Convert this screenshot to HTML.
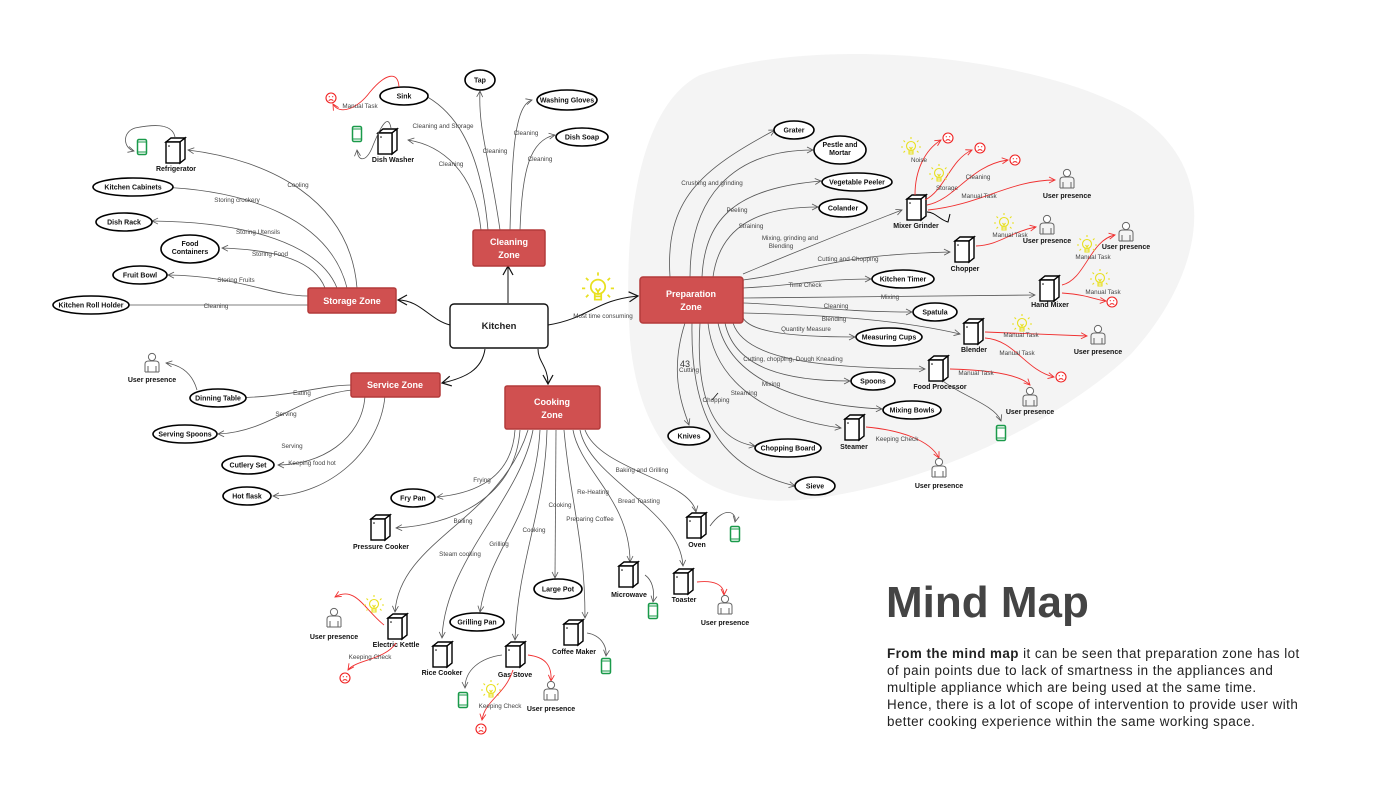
<!DOCTYPE html>
<html><head><meta charset="utf-8"><style>
html,body{margin:0;padding:0;background:#fff;}
svg{display:block;font-family:"Liberation Sans",sans-serif;}
.n{font-size:7px;font-weight:bold;fill:#111;text-anchor:middle;}
.l{font-size:6.3px;fill:#444;text-anchor:middle;}
.e{fill:none;stroke:#555;stroke-width:0.8;marker-end:url(#ar);}
.r{fill:none;stroke:#f03030;stroke-width:0.9;marker-end:url(#arr);}
.o{fill:#fff;stroke:#000;stroke-width:1.6;}
.z{fill:#d05050;stroke:#b33a3a;stroke-width:1.5;}
.zt{font-size:9px;font-weight:bold;fill:#fff;text-anchor:middle;}
#txt{position:absolute;left:887px;top:645px;font-family:"Liberation Sans",sans-serif;font-size:13.4px;line-height:17px;color:#222;white-space:nowrap;letter-spacing:0.45px;}
#ttl{position:absolute;left:886px;top:578px;font-family:"Liberation Sans",sans-serif;font-size:44px;font-weight:bold;color:#444;}
</style></head><body>
<div style="position:relative;width:1400px;height:788px;overflow:hidden">
<svg width="1400" height="788" viewBox="0 0 1400 788">
<defs>
<marker id="ar" markerWidth="8" markerHeight="8" refX="7" refY="4" orient="auto" markerUnits="userSpaceOnUse"><path d="M1,1 L7,4 L1,7" fill="none" stroke="#555" stroke-width="0.8"/></marker>
<marker id="arr" markerWidth="8" markerHeight="8" refX="7" refY="4" orient="auto" markerUnits="userSpaceOnUse"><path d="M1,1 L7,4 L1,7" fill="none" stroke="#f03030" stroke-width="0.9"/></marker>
<marker id="ab" markerWidth="12" markerHeight="12" refX="10" refY="6" orient="auto" markerUnits="userSpaceOnUse"><path d="M1,1 L10,6 L1,11" fill="none" stroke="#111" stroke-width="1.2"/></marker>
<g id="ap"><path d="M-10,-9 L-5,-13 L9,-13 L4,-9 Z" fill="#fff" stroke="#000" stroke-width="1.4"/><path d="M4,-9 L9,-13 L9,8 L4,12 Z" fill="#fff" stroke="#000" stroke-width="1.4"/><rect x="-10" y="-9" width="14" height="21" fill="#fff" stroke="#000" stroke-width="1.4"/><circle cx="-7" cy="-5" r="0.8" fill="#000"/></g>
<g id="ph"><rect x="-4.5" y="-7.5" width="9" height="15" rx="1.5" fill="#fff" stroke="#1a9a4a" stroke-width="1.5"/><line x1="-4.5" y1="-5" x2="4.5" y2="-5" stroke="#1a9a4a"/><line x1="-4.5" y1="5" x2="4.5" y2="5" stroke="#1a9a4a"/></g>
<g id="us"><circle cx="0" cy="-7" r="3.6" fill="#fff" stroke="#666" stroke-width="1"/><path d="M-7,8 L-7,0 Q-7,-3 -3,-3 L3,-3 Q7,-3 7,0 L7,8 M-4,8 L-4,2 M4,8 L4,2 M-7,8 L7,8" fill="none" stroke="#666" stroke-width="1"/></g>
<g id="sd"><circle r="5" fill="#fff" stroke="#f02020" stroke-width="1.1"/><circle cx="-1.7" cy="-1.3" r="0.6" fill="#f02020"/><circle cx="1.7" cy="-1.3" r="0.6" fill="#f02020"/><path d="M-2.3,2.6 Q0,0.6 2.3,2.6" fill="none" stroke="#f02020" stroke-width="0.9"/></g>
<g id="bl" stroke="#e8e020" fill="none" stroke-width="1.1"><circle cx="0" cy="-2" r="4.5"/><path d="M-2,2 L-2,6 L2,6 L2,2 M-2,4 L2,4 M-1.5,-1 L0,1 L1.5,-1 M0,1 L0,3"/><path d="M0,-9 L0,-11 M-6,-6 L-7.5,-7.5 M6,-6 L7.5,-7.5 M-8,-1 L-10,-1 M8,-1 L10,-1 M-6,3 L-7.5,4.5 M6,3 L7.5,4.5"/></g>
</defs>

<path d="M700,75 C820,35 1030,55 1130,110 C1230,170 1200,280 1130,355 C1050,430 910,490 800,500 C700,508 640,450 630,340 C622,220 640,105 700,75Z" fill="#f4f4f4"/>

<!-- Kitchen connections -->
<path d="M450,325 C430,320 420,300 398,300" fill="none" stroke="#111" stroke-width="1" marker-end="url(#ab)"/>
<path d="M508,303 L508,266" fill="none" stroke="#111" stroke-width="1" marker-end="url(#ab)"/>
<path d="M485,349 C482,370 465,378 442,383" fill="none" stroke="#111" stroke-width="1" marker-end="url(#ab)"/>
<path d="M538,349 C538,362 548,366 548,384" fill="none" stroke="#111" stroke-width="1" marker-end="url(#ab)"/>
<path d="M548,325 C590,318 595,300 638,296" fill="none" stroke="#111" stroke-width="1" marker-end="url(#ab)"/>
<text class="l" x="603" y="318">Most time consuming</text>
<use href="#bl" transform="translate(598,290) scale(1.6)"/>

<!-- Storage edges -->
<path class="e" d="M357,288 C350,200 270,160 188,150"/><text class="l" x="298" y="187">Cooling</text>
<path class="e" d="M347,288 C330,220 250,190 158,187"/><text class="l" x="237" y="202">Storing crockery</text>
<path class="e" d="M337,288 C320,245 250,222 152,221"/><text class="l" x="258" y="234">Storing Utensils</text>
<path class="e" d="M325,288 C315,262 280,250 222,248"/><text class="l" x="270" y="256">Storing Food</text>
<path class="e" d="M308,296 C270,296 240,276 168,275"/><text class="l" x="236" y="282">Storing Fruits</text>
<path class="e" d="M308,305 L118,305"/><text class="l" x="216" y="308">Cleaning</text>
<path class="e" d="M175,137 C172,122 150,125 135,128 C122,132 123,148 134,151"/>
<use href="#ap" x="176" y="151"/><text class="n" x="176" y="171">Refrigerator</text>
<use href="#ph" x="142" y="147"/>
<ellipse class="o" cx="133" cy="187" rx="40" ry="9"/><text class="n" x="133" y="189.5">Kitchen Cabinets</text>
<ellipse class="o" cx="124" cy="222" rx="28" ry="9"/><text class="n" x="124" y="224.5">Dish Rack</text>
<ellipse class="o" cx="190" cy="249" rx="29" ry="14"/><text class="n" x="190" y="246">Food</text><text class="n" x="190" y="254">Containers</text>
<ellipse class="o" cx="140" cy="275" rx="27" ry="9"/><text class="n" x="140" y="277.5">Fruit Bowl</text>
<ellipse class="o" cx="91" cy="305" rx="38" ry="9"/><text class="n" x="91" y="307.5">Kitchen Roll Holder</text>

<!-- Cleaning edges -->
<path class="e" d="M488,230 C480,140 450,108 422,94"/><text class="l" x="443" y="128">Cleaning and Storage</text>
<path class="e" d="M481,230 C475,170 440,145 408,140"/><text class="l" x="451" y="166">Cleaning</text>
<path class="e" d="M500,230 C490,160 478,130 480,91"/><text class="l" x="495" y="153">Cleaning</text>
<path class="e" d="M510,230 C512,150 515,105 532,100"/><text class="l" x="526" y="135">Cleaning</text>
<path class="e" d="M520,230 C522,170 530,140 555,135"/><text class="l" x="540" y="161">Cleaning</text>
<ellipse class="o" cx="404" cy="96" rx="24" ry="9"/><text class="n" x="404" y="98.5">Sink</text>
<ellipse class="o" cx="480" cy="80" rx="15" ry="10"/><text class="n" x="480" y="82.5">Tap</text>
<ellipse class="o" cx="567" cy="100" rx="30" ry="10"/><text class="n" x="567" y="102.5">Washing Gloves</text>
<ellipse class="o" cx="582" cy="137" rx="26" ry="9"/><text class="n" x="582" y="139.5">Dish Soap</text>
<path class="r" d="M399,87 C398,70 385,74 370,92 C358,108 340,116 333,104"/>
<use href="#sd" x="331" y="98"/><text class="l" x="360" y="108">Manual Task</text>
<use href="#ap" x="388" y="142"/><text class="n" x="393" y="162">Dish Washer</text>
<path class="e" d="M391,128 C388,112 380,128 372,148 C366,162 358,162 357,150"/>
<use href="#ph" x="357" y="134"/>

<!-- Service edges -->
<path class="e" d="M352,385 C320,385 290,398 225,398"/><text class="l" x="302" y="395">Eating</text>
<path class="e" d="M352,390 C300,395 270,432 218,434"/><text class="l" x="286" y="416">Serving</text>
<path class="e" d="M365,396 C362,440 320,465 278,465"/><text class="l" x="292" y="448">Serving</text>
<path class="e" d="M385,396 C380,450 330,495 273,496"/><text class="l" x="312" y="465">Keeping food hot</text>
<path class="e" d="M197,390 C192,372 180,365 166,363"/>
<use href="#us" x="152" y="364"/><text class="n" x="152" y="382">User presence</text>
<ellipse class="o" cx="218" cy="398" rx="28" ry="9"/><text class="n" x="218" y="400.5">Dinning Table</text>
<ellipse class="o" cx="185" cy="434" rx="32" ry="9"/><text class="n" x="185" y="436.5">Serving Spoons</text>
<ellipse class="o" cx="248" cy="465" rx="26" ry="9"/><text class="n" x="248" y="467.5">Cutlery Set</text>
<ellipse class="o" cx="247" cy="496" rx="24" ry="9"/><text class="n" x="247" y="498.5">Hot flask</text>

<!-- Cooking edges -->
<path class="e" d="M515,430 C512,475 480,493 437,497"/><text class="l" x="482" y="482">Frying</text>
<path class="e" d="M520,430 C515,500 450,525 396,528"/><text class="l" x="463" y="523">Boiling</text>
<path class="e" d="M528,430 C500,520 400,540 395,612"/>
<path class="e" d="M533,430 C520,500 445,560 442,638"/><text class="l" x="460" y="556">Steam cooking</text>
<path class="e" d="M540,430 C535,520 490,545 480,612"/><text class="l" x="499" y="546">Grilling</text>
<path class="e" d="M547,430 C545,510 518,560 515,640"/><text class="l" x="534" y="532">Cooking</text>
<path class="e" d="M556,430 L555,578"/><text class="l" x="560" y="507">Cooking</text>
<path class="e" d="M564,430 C570,500 585,540 585,618"/><text class="l" x="590" y="521">Preparing Coffee</text>
<path class="e" d="M573,430 C580,470 630,500 630,562"/><text class="l" x="593" y="494">Re-Heating</text>
<path class="e" d="M580,430 C590,480 680,510 683,566"/><text class="l" x="639" y="503">Bread Toasting</text>
<path class="e" d="M585,430 C600,470 690,480 696,512"/><text class="l" x="642" y="472">Baking and Grilling</text>
<ellipse class="o" cx="413" cy="498" rx="22" ry="9"/><text class="n" x="413" y="500.5">Fry Pan</text>
<use href="#ap" x="381" y="528"/><text class="n" x="381" y="549">Pressure Cooker</text>
<use href="#ap" x="398" y="627"/><text class="n" x="396" y="647">Electric Kettle</text>
<path class="r" d="M384,625 C365,610 355,585 335,597"/>
<use href="#us" x="334" y="619"/><text class="n" x="334" y="639">User presence</text>
<use href="#bl" x="374" y="606"/>
<path class="r" d="M396,643 C385,660 355,660 348,670"/><text class="l" x="370" y="659">Keeping Check</text>
<use href="#sd" x="345" y="678"/>
<use href="#ap" x="443" y="655"/><text class="n" x="442" y="675">Rice Cooker</text>
<ellipse class="o" cx="477" cy="622" rx="27" ry="9"/><text class="n" x="477" y="624.5">Grilling Pan</text>
<use href="#ap" x="516" y="655"/><text class="n" x="515" y="677">Gas Stove</text>
<path class="e" d="M502,655 C480,658 465,670 465,688"/>
<use href="#ph" x="463" y="700"/>
<use href="#bl" x="491" y="691"/>
<path class="r" d="M513,670 C505,695 485,700 482,720"/><text class="l" x="500" y="708">Keeping Check</text>
<use href="#sd" x="481" y="729"/>
<path class="r" d="M528,655 C545,657 552,665 551,681"/>
<use href="#us" x="551" y="692"/><text class="n" x="551" y="711">User presence</text>
<ellipse class="o" cx="558" cy="589" rx="24" ry="10"/><text class="n" x="558" y="591.5">Large Pot</text>
<use href="#ap" x="574" y="633"/><text class="n" x="574" y="654">Coffee Maker</text>
<path class="e" d="M587,633 C600,635 607,645 606,656"/>
<use href="#ph" x="606" y="666"/>
<use href="#ap" x="629" y="575"/><text class="n" x="629" y="597">Microwave</text>
<path class="e" d="M645,575 C652,580 655,590 653,602"/>
<use href="#ph" x="653" y="611"/>
<use href="#ap" x="697" y="526"/><text class="n" x="697" y="547">Oven</text>
<path class="e" d="M710,526 C725,505 737,512 735,522"/>
<use href="#ph" x="735" y="534"/>
<use href="#ap" x="684" y="582"/><text class="n" x="684" y="602">Toaster</text>
<path class="r" d="M697,582 C715,580 724,585 724,595"/>
<use href="#us" x="725" y="606"/><text class="n" x="725" y="625">User presence</text>

<!-- Prep edges -->
<path class="e" d="M670,277 C665,200 700,170 775,130"/><text class="l" x="712" y="185">Crushing and grinding</text>
<path class="e" d="M690,277 C690,200 730,150 813,150"/>
<path class="e" d="M702,277 C705,215 740,188 821,181"/><text class="l" x="737" y="212">Peeling</text>
<path class="e" d="M713,277 C720,225 760,207 818,207"/><text class="l" x="751" y="228">Straining</text>
<path class="e" d="M743,274 C800,250 850,230 902,210"/><text class="l" x="790" y="240">Mixing, grinding and</text><text class="l" x="781" y="248">Blending</text>
<path class="e" d="M743,280 C820,270 830,255 950,252"/><text class="l" x="848" y="261">Cutting and Chopping</text>
<path class="e" d="M743,288 C800,285 820,279 871,279"/><text class="l" x="805" y="287">Time Check</text>
<path class="e" d="M743,298 L1035,295"/><text class="l" x="890" y="299">Mixing</text>
<path class="e" d="M743,303 C800,305 840,312 912,312"/><text class="l" x="836" y="308">Cleaning</text>
<path class="e" d="M743,313 C830,315 900,320 960,334"/><text class="l" x="834" y="321">Blending</text>
<path class="e" d="M743,318 C750,330 780,337 855,337"/><text class="l" x="806" y="331">Quantity Measure</text>
<path class="e" d="M733,323 C745,360 820,368 925,369"/><text class="l" x="793" y="361">Cutting, chopping, Dough Kneading</text>
<path class="e" d="M725,323 C735,370 790,381 850,381"/>
<path class="e" d="M718,323 C730,380 800,405 882,409"/><text class="l" x="771" y="386">Mixing</text>
<path class="e" d="M708,323 C715,390 780,420 841,428"/><text class="l" x="744" y="395">Steaming</text>
<path class="e" d="M700,323 C695,400 715,440 755,446"/><text class="l" x="716" y="402">Chopping</text>
<path class="e" d="M692,323 C690,430 730,470 795,486"/>
<path class="e" d="M685,323 C670,370 680,400 689,425"/><text class="l" x="689" y="372">Cutting</text>
<text x="680" y="367" style="font-size:9px;fill:#333">43</text>
<path d="M712,400 L718,393" stroke="#111" stroke-width="0.8"/>
<ellipse class="o" cx="794" cy="130" rx="20" ry="9"/><text class="n" x="794" y="132.5">Grater</text>
<ellipse class="o" cx="840" cy="150" rx="26" ry="14"/><text class="n" x="840" y="147">Pestle and</text><text class="n" x="840" y="155">Mortar</text>
<ellipse class="o" cx="857" cy="182" rx="35" ry="9"/><text class="n" x="857" y="184.5">Vegetable Peeler</text>
<ellipse class="o" cx="843" cy="208" rx="24" ry="9"/><text class="n" x="843" y="210.5">Colander</text>
<ellipse class="o" cx="903" cy="279" rx="31" ry="9"/><text class="n" x="903" y="281.5">Kitchen Timer</text>
<ellipse class="o" cx="935" cy="312" rx="22" ry="9"/><text class="n" x="935" y="314.5">Spatula</text>
<ellipse class="o" cx="889" cy="337" rx="33" ry="9"/><text class="n" x="889" y="339.5">Measuring Cups</text>
<ellipse class="o" cx="873" cy="381" rx="22" ry="9"/><text class="n" x="873" y="383.5">Spoons</text>
<ellipse class="o" cx="912" cy="410" rx="29" ry="9"/><text class="n" x="912" y="412.5">Mixing Bowls</text>
<ellipse class="o" cx="689" cy="436" rx="21" ry="9"/><text class="n" x="689" y="438.5">Knives</text>
<ellipse class="o" cx="788" cy="448" rx="33" ry="9"/><text class="n" x="788" y="450.5">Chopping Board</text>
<ellipse class="o" cx="815" cy="486" rx="20" ry="9"/><text class="n" x="815" y="488.5">Sieve</text>

<!-- Mixer grinder cluster -->
<use href="#ap" x="917" y="208"/><text class="n" x="916" y="228">Mixer Grinder</text>
<path d="M927,212 C935,212 940,220 948,222 L950,214" fill="none" stroke="#000" stroke-width="1"/>
<path class="r" d="M915,195 C915,170 925,150 941,140"/><use href="#sd" x="948" y="138"/>
<use href="#bl" x="911" y="148"/><text class="l" x="919" y="162">Noise</text>
<path class="r" d="M925,200 C945,190 950,160 972,150"/><use href="#sd" x="980" y="148"/>
<use href="#bl" x="939" y="175"/><text class="l" x="947" y="190">Storage</text>
<path class="r" d="M927,205 C955,200 970,165 1008,160"/><use href="#sd" x="1015" y="160"/><text class="l" x="978" y="179">Cleaning</text>
<path class="r" d="M928,210 C980,205 1010,180 1055,180"/><text class="l" x="979" y="198">Manual Task</text>
<use href="#us" x="1067" y="180"/><text class="n" x="1067" y="198">User presence</text>
<!-- Chopper -->
<use href="#ap" x="965" y="250"/><text class="n" x="965" y="271">Chopper</text>
<path class="r" d="M976,246 C1000,245 1010,232 1036,227"/><text class="l" x="1010" y="237">Manual Task</text>
<use href="#bl" x="1004" y="224"/>
<use href="#us" x="1047" y="226"/><text class="n" x="1047" y="243">User presence</text>
<!-- Hand mixer -->
<use href="#ap" x="1050" y="289"/><text class="n" x="1050" y="307">Hand Mixer</text>
<path class="r" d="M1062,285 C1085,280 1090,240 1115,235"/><text class="l" x="1093" y="259">Manual Task</text>
<use href="#bl" x="1087" y="246"/>
<use href="#us" x="1126" y="233"/><text class="n" x="1126" y="249">User presence</text>
<path class="r" d="M1062,293 C1090,295 1095,300 1106,301"/><text class="l" x="1103" y="294">Manual Task</text>
<use href="#bl" x="1100" y="280"/><use href="#sd" x="1112" y="302"/>
<!-- Blender -->
<use href="#ap" x="974" y="332"/><text class="n" x="974" y="352">Blender</text>
<path class="r" d="M985,332 L1087,336"/><text class="l" x="1021" y="337">Manual Task</text>
<use href="#bl" x="1022" y="325"/>
<use href="#us" x="1098" y="336"/><text class="n" x="1098" y="354">User presence</text>
<path class="r" d="M985,338 C1015,340 1025,370 1054,377"/><text class="l" x="1017" y="355">Manual Task</text>
<use href="#sd" x="1061" y="377"/>
<!-- Food processor -->
<use href="#ap" x="939" y="369"/><text class="n" x="940" y="389">Food Processor</text>
<path class="r" d="M950,369 C990,370 1020,375 1030,385"/><text class="l" x="976" y="375">Manual Task</text>
<use href="#us" x="1030" y="398"/><text class="n" x="1030" y="414">User presence</text>
<path class="e" d="M943,381 C960,395 995,405 1001,421"/>
<use href="#ph" x="1001" y="433"/>
<!-- Steamer -->
<use href="#ap" x="855" y="428"/><text class="n" x="854" y="449">Steamer</text>
<path class="r" d="M866,427 C900,430 930,440 939,458"/><text class="l" x="897" y="441">Keeping Check</text>
<use href="#us" x="939" y="469"/><text class="n" x="939" y="488">User presence</text>

<!-- Zone boxes -->
<rect x="450" y="304" width="98" height="44" rx="4" fill="#fff" stroke="#111" stroke-width="1.4"/><text x="499" y="329" text-anchor="middle" style="font-size:9.5px;font-weight:bold;fill:#222">Kitchen</text>
<rect class="z" x="473" y="230" width="72" height="36" rx="2"/><text class="zt" x="509" y="245">Cleaning</text><text class="zt" x="509" y="258">Zone</text>
<rect class="z" x="308" y="288" width="88" height="25" rx="2"/><text class="zt" x="352" y="304">Storage Zone</text>
<rect class="z" x="351" y="373" width="89" height="24" rx="2"/><text class="zt" x="395" y="388">Service Zone</text>
<rect class="z" x="505" y="386" width="95" height="43" rx="2"/><text class="zt" x="552" y="405">Cooking</text><text class="zt" x="552" y="418">Zone</text>
<rect class="z" x="640" y="277" width="103" height="46" rx="3"/><text class="zt" x="691" y="297">Preparation</text><text class="zt" x="691" y="310">Zone</text>
</svg>
<div id="ttl">Mind Map</div>
<div id="txt"><b>From the mind map</b> it can be seen that preparation zone has lot<br>of pain points due to lack of smartness in the appliances and<br>multiple appliance which are being used at the same time.<br>Hence, there is a lot of scope of intervention to provide user with<br>better cooking experience within the same working space.</div>
</div>
</body></html>
